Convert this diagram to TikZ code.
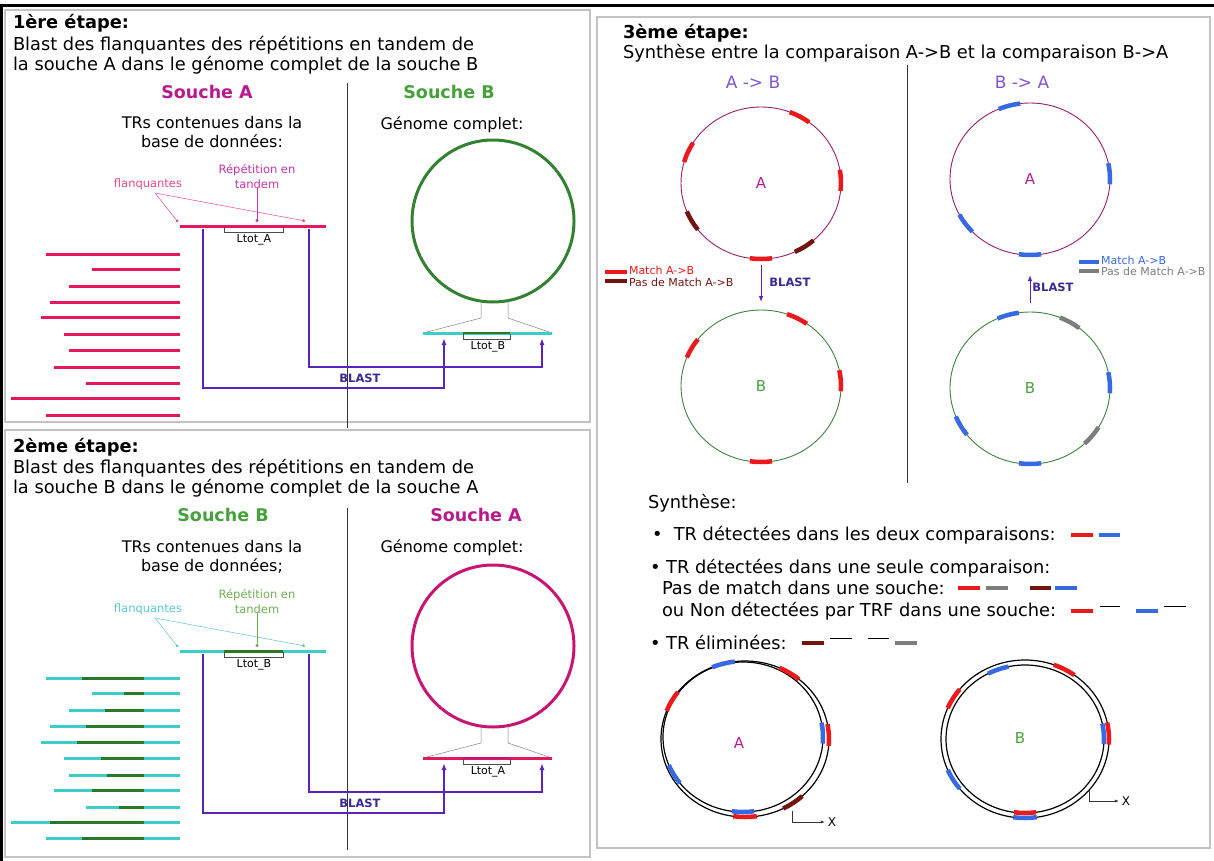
\documentclass[tikz,border=0pt]{standalone}
\usepackage{fontspec}
\setmainfont{DejaVu Sans}
\usetikzlibrary{arrows.meta, shapes.geometric}

\definecolor{panelgray}{RGB}{195,195,195}
\definecolor{soucheA}{RGB}{185,25,140}
\definecolor{soucheB}{RGB}{70,160,60}
\definecolor{trpink}{RGB}{232,22,92}
\definecolor{flankpink}{RGB}{236,70,140}
\definecolor{tandempink}{RGB}{200,50,170}
\definecolor{genomegreen}{RGB}{50,130,50}
\definecolor{genomemagenta}{RGB}{200,20,115}
\definecolor{trcyan}{RGB}{60,205,200}
\definecolor{trgreen}{RGB}{45,120,40}
\definecolor{flankcyan}{RGB}{90,200,205}
\definecolor{tandemgreen}{RGB}{110,175,80}
\definecolor{blastpurple}{RGB}{90,35,190}
\definecolor{blastlabel}{RGB}{60,40,150}
\definecolor{cmpviolet}{RGB}{125,85,215}
\definecolor{ringA}{RGB}{150,30,110}
\definecolor{ringB}{RGB}{60,130,60}
\definecolor{matchred}{RGB}{235,25,25}
\definecolor{nomatchred}{RGB}{115,20,15}
\definecolor{matchblue}{RGB}{55,105,225}
\definecolor{nomatchgray}{RGB}{125,125,125}

\newcommand{\trmark}[5]{%
  \draw[trmk, #3] (#1.center) ++({-(#2)+8}:#4 and #5) arc[start angle={-(#2)+8}, end angle={-(#2)-8}, x radius=#4, y radius=#5];}

\begin{document}
\begin{tikzpicture}[
    x=1pt, y=-1pt, >=Latex,
    every node/.style={inner sep=0pt, outer sep=0pt},
    cadre/.style={line width=3pt, black},
    panel/.style={draw=panelgray, line width=1.5pt},
    divider/.style={line width=0.8pt, black!80},
    titre/.style={anchor=west, font=\bfseries\fontsize{17.8}{20}\selectfont},
    texte/.style={anchor=west, align=left, font=\fontsize{17.8}{20}\selectfont},
    souche/.style={font=\bfseries\fontsize{17.5}{20}\selectfont},
    sous/.style={align=center, font=\fontsize{16}{19}\selectfont},
    petit/.style={align=center, font=\fontsize{11.5}{15}\selectfont},
    ltot/.style={font=\fontsize{11}{12}\selectfont},
    trline/.style={line width=3pt},
    annot/.style={line width=0.5pt, -{Circle[length=3pt]}},
    ltotbr/.style={line width=0.5pt, black!70},
    zoomline/.style={line width=0.5pt, black!50},
    genome/.style={circle, draw, line width=3pt, minimum size=162pt},
    blast/.style={line width=1.5pt, blastpurple, -{Latex[length=7pt, width=5pt]}},
    blast3/.style={line width=1pt, blastpurple, -{Latex[length=6pt, width=4.5pt]}},
    blastlab/.style={font=\bfseries\fontsize{11.5}{12}\selectfont, text=blastlabel},
    cmp/.style={font=\fontsize{17}{20}\selectfont, text=cmpviolet},
    genome3/.style={ellipse, draw, line width=0.9pt, minimum width=160pt, minimum height=152pt, font=\fontsize{15}{18}\selectfont},
    trmk/.style={line width=4.5pt},
    legende/.style={anchor=west, font=\fontsize{11}{12}\selectfont},
    barre/.style={line width=4.5pt},
    trait/.style={line width=1pt, black},
    synth/.style={line width=1.2pt, black},
    lettre/.style={font=\fontsize{15}{18}\selectfont},
    xlab/.style={font=\fontsize{12}{14}\selectfont},
    xarrow/.style={line width=0.6pt, black!80, -{Latex[length=4pt, width=3pt]}, shorten >=3pt},
]
\useasboundingbox (0,0) rectangle (1214,861);
\draw[cadre] (0,6) -- (1214,6);
\draw[cadre] (1.5,6) -- (1.5,861);

% 1ere etape
\draw[panel] (5,10) rectangle (590,422);
\node (titre_1) [titre] at (13,23) {1ère étape:};
\node (texte_1) [texte] at (13,55) {Blast des flanquantes des répétitions en tandem de\\la souche A dans le génome complet de la souche B};
\draw[divider] (347,83) -- (347,428);
\node (souche_a_1) [souche, text=soucheA] at (207,92) {Souche A};
\node (souche_b_1) [souche, text=soucheB] at (449,92) {Souche B};
\node (trs_1) [sous] at (212,132) {TRs contenues dans la\\base de données:};
\node (genome_txt_1) [sous] at (452,125) {Génome complet:};
\node (genome_b_1) [genome, draw=genomegreen] at (493,221) {};
\foreach \y/\xl in {254/46, 269/92, 286/69, 302/50, 317/41, 334/64, 350/69, 367/54, 383/86, 398/11, 415/46}
    \draw[trline, trpink] (\xl,\y) -- (180,\y);
\draw[trline, trpink] (180,226) -- (326,226);
\draw[ltotbr] (224,227) -- (224,232) -- (283,232) -- (283,227);
\node (ltot_a_1) [ltot] at (254,240) {Ltot\_A};
\node (flanq_1) [petit, text=flankpink] at (148,184) {flanquantes};
\node (tandem_1) [petit, text=tandempink] at (257,176) {Répétition en\\tandem};
\coordinate (flanq_pt_1) at (155,193);
\coordinate (flank_l_1) at (178,222);
\coordinate (flank_r_1) at (305,221);
\coordinate (rep_1) at (257,222);
\draw[annot, flankpink] (flanq_pt_1) -- (flank_l_1);
\draw[annot, flankpink] (flanq_pt_1) -- (flank_r_1);
\draw[annot, tandempink] (tandem_1.south) -- (rep_1);
\draw[zoomline] (481,301) -- (481,318) -- (423,333);
\draw[zoomline] (508,301) -- (508,318) -- (552,333);
\draw[trline, trcyan] (423,333) -- (552,333);
\draw[line width=2pt, trgreen] (463,333) -- (510,333);
\draw[ltotbr] (463,334) -- (463,339) -- (510,339) -- (510,334);
\node (ltot_b_1) [ltot] at (488,347) {Ltot\_B};
\coordinate (tr_g_1) at (203,229);
\coordinate (tr_d_1) at (309,229);
\coordinate (hit_g_1) at (444,338);
\coordinate (hit_d_1) at (542,338);
\draw[blast] (tr_g_1) -- ++(0,159) -| (hit_g_1);
\draw[blast] (tr_d_1) -- ++(0,138) -| (hit_d_1);
\node (blast_1) [blastlab] at (360,378) {BLAST};

% 2eme etape
\begin{scope}[shift={(0,425)}]
\draw[panel] (5,5) rectangle (590,432);
\node (titre_2) [titre] at (13,22) {2ème étape:};
\node (texte_2) [texte] at (13,53) {Blast des flanquantes des répétitions en tandem de\\la souche B dans le génome complet de la souche A};
\draw[divider] (347,83) -- (347,425);
\node (souche_b_2) [souche, text=soucheB] at (223,90) {Souche B};
\node (souche_a_2) [souche, text=soucheA] at (476,90) {Souche A};
\node (trs_2) [sous] at (212,132) {TRs contenues dans la\\base de données;};
\node (genome_txt_2) [sous] at (452,123) {Génome complet:};
\node (genome_a_2) [genome, draw=genomemagenta] at (493,221) {};
\foreach \y/\xl/\xg in {253/46/82, 268/92/124, 285/69/105, 301/50/86, 317/41/77, 333/64/101, 350/69/107, 365/54/92, 382/86/119, 397/11/50, 413/46/82} {
    \draw[trline, trcyan] (\xl,\y) -- (180,\y);
    \draw[trline, trgreen] (\xg,\y) -- (144,\y);
}
\draw[trline, trcyan] (180,226) -- (326,226);
\draw[trline, trgreen] (224,226) -- (283,226);
\draw[ltotbr] (224,227) -- (224,232) -- (283,232) -- (283,227);
\node (ltot_b_2) [ltot] at (254,240) {Ltot\_B};
\node (flanq_2) [petit, text=flankcyan] at (148,184) {flanquantes};
\node (tandem_2) [petit, text=tandemgreen] at (257,176) {Répétition en\\tandem};
\coordinate (flanq_pt_2) at (155,193);
\coordinate (flank_l_2) at (178,222);
\coordinate (flank_r_2) at (305,221);
\coordinate (rep_2) at (257,222);
\draw[annot, flankcyan] (flanq_pt_2) -- (flank_l_2);
\draw[annot, flankcyan] (flanq_pt_2) -- (flank_r_2);
\draw[annot, tandemgreen] (tandem_2.south) -- (rep_2);
\draw[zoomline] (481,301) -- (481,318) -- (423,333);
\draw[zoomline] (508,301) -- (508,318) -- (552,333);
\draw[trline, trpink] (423,333) -- (552,333);
\draw[line width=2pt, genomemagenta] (463,333) -- (510,333);
\draw[ltotbr] (463,334) -- (463,339) -- (510,339) -- (510,334);
\node (ltot_a_2) [ltot] at (488,347) {Ltot\_A};
\coordinate (tr_g_2) at (203,229);
\coordinate (tr_d_2) at (309,229);
\coordinate (hit_g_2) at (444,338);
\coordinate (hit_d_2) at (542,338);
\draw[blast] (tr_g_2) -- ++(0,159) -| (hit_g_2);
\draw[blast] (tr_d_2) -- ++(0,138) -| (hit_d_2);
\node (blast_2) [blastlab] at (360,378) {BLAST};
\end{scope}

% 3eme etape
\draw[panel] (597,17) rectangle (1210,848);
\node (titre_3) [titre] at (623,33) {3ème étape:};
\node (texte_3) [texte] at (623,53) {Synthèse entre la comparaison A->B et la comparaison B->A};
\draw[divider] (907,65) -- (907,483);
\node (cmp_ab) [cmp] at (753,82) {A -> B};
\node (cmp_ba) [cmp] at (1022,82) {B -> A};
\node (ab_a) [genome3, draw=ringA, text=soucheA] at (761,183) {A};
\node (ab_b) [genome3, draw=ringB, text=soucheB] at (761,386) {B};
\node (ba_a) [genome3, draw=ringA, text=soucheA] at (1030,179) {A};
\node (ba_b) [genome3, draw=ringB, text=soucheB] at (1030,388) {B};
\trmark{ab_a}{61}{matchred}{80}{76}
\trmark{ab_a}{156}{matchred}{80}{76}
\trmark{ab_a}{2}{matchred}{80}{76}
\trmark{ab_a}{270}{matchred}{80}{76}
\trmark{ab_a}{210}{nomatchred}{80}{76}
\trmark{ab_a}{303}{nomatchred}{80}{76}
\trmark{ab_b}{63}{matchred}{80}{76}
\trmark{ab_b}{150}{matchred}{80}{76}
\trmark{ab_b}{4}{matchred}{80}{76}
\trmark{ab_b}{270}{matchred}{80}{76}
\trmark{ba_a}{105}{matchblue}{80}{76}
\trmark{ba_a}{4}{matchblue}{80}{76}
\trmark{ba_a}{216}{matchblue}{80}{76}
\trmark{ba_a}{270}{matchblue}{80}{76}
\trmark{ba_b}{106}{matchblue}{80}{76}
\trmark{ba_b}{60}{nomatchgray}{80}{76}
\trmark{ba_b}{4}{matchblue}{80}{76}
\trmark{ba_b}{210}{matchblue}{80}{76}
\trmark{ba_b}{321}{nomatchgray}{80}{76}
\trmark{ba_b}{270}{matchblue}{80}{76}
\draw[blast3, shorten <=6pt, shorten >=8pt] (ab_a) -- (ab_b);
\node (blast_ab) [blastlab] at (790,282) {BLAST};
\draw[blast3, shorten <=9pt, shorten >=20pt] (ba_b) -- (ba_a);
\node (blast_ba) [blastlab] at (1053,287) {BLAST};
% legendes
\draw[barre, matchred] (605,272) -- (627,272);
\draw[barre, nomatchred] (605,281) -- (627,281);
\node (leg_match_ab) [legende, text=matchred] at (629,270) {Match A->B};
\node (leg_nomatch_ab) [legende, text=nomatchred] at (629,282) {Pas de Match A->B};
\draw[barre, matchblue] (1079,262) -- (1099,262);
\draw[barre, nomatchgray] (1079,271) -- (1099,271);
\node (leg_match_ba) [legende, text=matchblue] at (1101,260) {Match A->B};
\node (leg_nomatch_ba) [legende, text=nomatchgray] at (1101,271) {Pas de Match A->B};

% synthese
\node (synthese) [texte] at (648,503) {Synthèse:};
\node (puce_1) [texte] at (652,535) {•\ \ TR détectées dans les deux comparaisons:};
\draw[barre, matchred] (1071,535) -- (1093,535);
\draw[barre, matchblue] (1099,535) -- (1120,535);
\node (puce_2) [texte] at (650,568) {• TR détectées dans une seule comparaison:};
\node (pas_match) [texte] at (662,588) {Pas de match dans une souche:};
\draw[barre, matchred] (958,588) -- (980,588);
\draw[barre, nomatchgray] (986,588) -- (1008,588);
\draw[barre, nomatchred] (1030,588) -- (1051,588);
\draw[barre, matchblue] (1055,588) -- (1077,588);
\node (non_trf) [texte] at (662,611) {ou Non détectées par TRF dans une souche:};
\draw[barre, matchred] (1071,611) -- (1093,611);
\draw[trait] (1100,606) -- (1120,606);
\draw[barre, matchblue] (1136,611) -- (1158,611);
\draw[trait] (1164,606) -- (1186,606);
\node (puce_3) [texte] at (650,643) {• TR éliminées:};
\draw[barre, nomatchred] (802,643) -- (824,643);
\draw[trait] (830,638) -- (852,638);
\draw[trait] (868,638) -- (889,638);
\draw[barre, nomatchgray] (895,643) -- (917,643);

\coordinate (syn_a_out) at (745,739);
\coordinate (syn_a_in) at (743,737);
\draw[synth] (syn_a_out) ellipse [x radius=84, y radius=78];
\draw[synth] (syn_a_in) ellipse [x radius=80, y radius=75];
\node (syn_a_txt) [lettre, text=soucheA] at (739,743) {A};
\trmark{syn_a_out}{105}{matchblue}{84}{78}
\trmark{syn_a_out}{58}{matchred}{84}{78}
\trmark{syn_a_out}{151}{matchred}{84}{78}
\trmark{syn_a_out}{3}{matchred}{84}{78}
\trmark{syn_a_in}{3}{matchblue}{80}{75}
\trmark{syn_a_in}{210}{matchblue}{80}{75}
\trmark{syn_a_out}{270}{matchred}{84}{78}
\trmark{syn_a_in}{270}{matchblue}{80}{75}
\trmark{syn_a_out}{305}{nomatchred}{84}{78}
\node (x_a) [xlab] at (832,822) {X};
\coordinate (x_a_start) at (792,811);
\draw[xarrow] (x_a_start) |- (x_a);

\coordinate (syn_b) at (1025,739);
\draw[synth] (syn_b) ellipse [x radius=84, y radius=79];
\draw[synth] (syn_b) ellipse [x radius=79, y radius=74];
\node (syn_b_txt) [lettre, text=soucheB] at (1020,738) {B};
\trmark{syn_b}{110}{matchblue}{79}{74}
\trmark{syn_b}{62}{matchred}{84}{79}
\trmark{syn_b}{149}{matchred}{84}{79}
\trmark{syn_b}{4}{matchred}{84}{79}
\trmark{syn_b}{4}{matchblue}{79}{74}
\trmark{syn_b}{211}{matchblue}{84}{79}
\trmark{syn_b}{270}{matchred}{79}{74}
\trmark{syn_b}{270}{matchblue}{84}{79}
\node (x_b) [xlab] at (1126,801) {X};
\coordinate (x_b_start) at (1089,790);
\draw[xarrow] (x_b_start) |- (x_b);
\end{tikzpicture}
\end{document}
